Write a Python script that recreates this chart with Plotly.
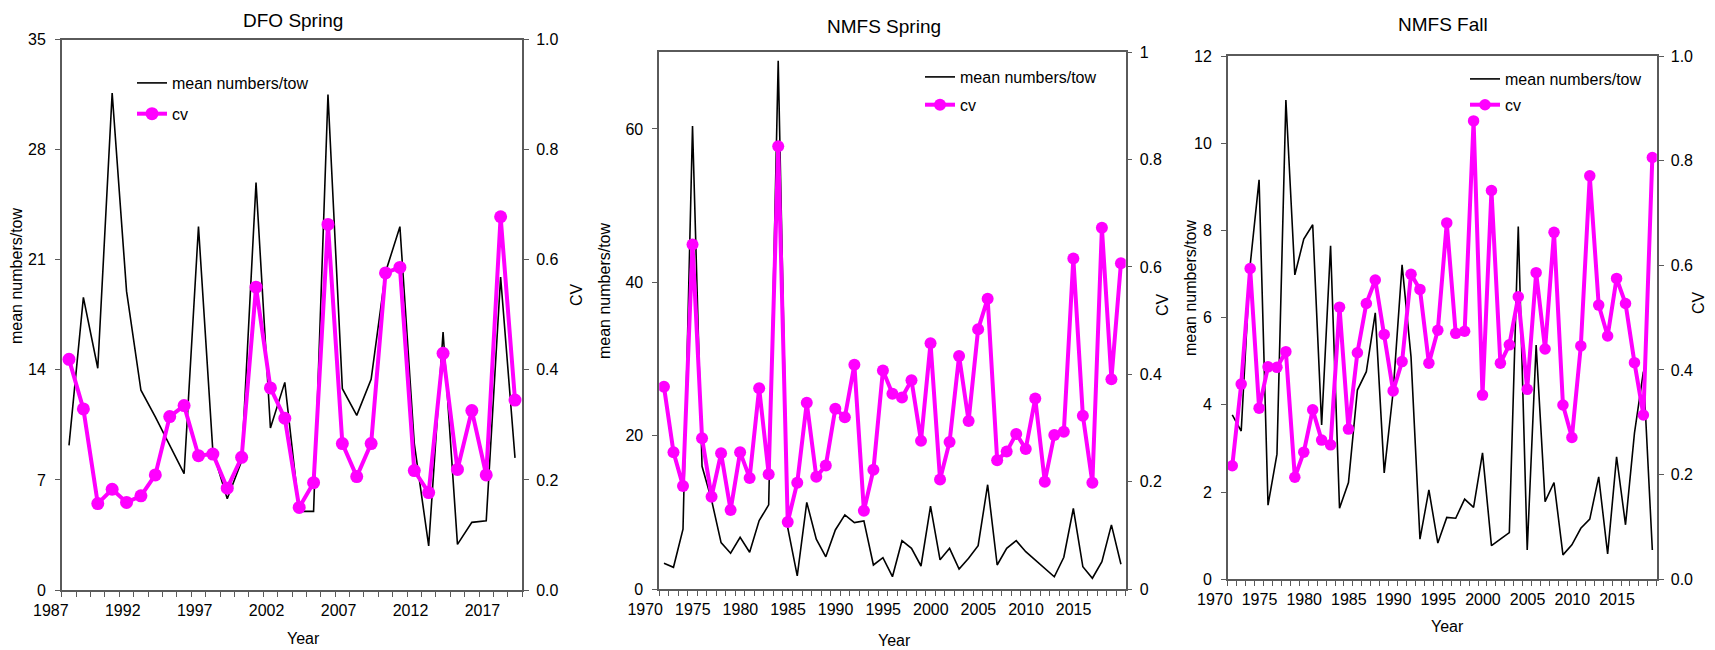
"""Mean numbers/tow and CV by survey: DFO Spring, NMFS Spring, NMFS Fall."""

import plotly.graph_objects as go

W, H = 1715, 650
FONT = "Liberation Sans, Arial, sans-serif"
MAGENTA = "#FF00FF"
AXIS = "#5a5a5a"

# --- data ---
dfo_years = list(range(1988, 2020))
dfo_mean = [9.2, 18.6, 14.1, 31.6, 19.0, 12.7, 11.0, 9.2, 7.4, 23.1,
            8.8, 5.8, 8.2, 25.9, 10.3, 13.2, 5.0, 5.0, 31.5, 12.8,
            11.1, 13.4, 20.2, 23.1, 9.3, 2.8, 16.4, 2.9, 4.3, 4.4,
            19.9, 8.4]
dfo_cv = [0.419, 0.329, 0.157, 0.183, 0.159, 0.171, 0.209, 0.315, 0.335, 0.244,
          0.247, 0.185, 0.241, 0.550, 0.367, 0.312, 0.150, 0.195, 0.664, 0.266,
          0.206, 0.266, 0.576, 0.586, 0.217, 0.177, 0.430, 0.219, 0.326, 0.209,
          0.678, 0.345]

spring_years = list(range(1972, 2021))
spring_mean = [3.35, 2.83, 7.8, 60.4, 16.0, 11.6, 6.05, 4.66, 6.75, 4.79,
               8.92, 10.97, 68.9, 8.0, 1.7, 11.3, 6.5, 4.2, 7.7, 9.66,
               8.66, 8.88, 3.13, 4.09, 1.6, 6.3, 5.3, 3.0, 10.8, 3.8,
               5.3, 2.6, 4.0, 5.65, 13.6, 3.13, 5.3, 6.3, 4.87, 3.79,
               2.7, 1.6, 4.14, 10.5, 2.9, 1.4, 3.57, 8.36, 3.22]
spring_cv = [0.377, 0.255, 0.192, 0.642, 0.281, 0.172, 0.253, 0.147, 0.255, 0.207,
             0.374, 0.214, 0.825, 0.125, 0.198, 0.347, 0.209, 0.230, 0.336, 0.320,
             0.418, 0.146, 0.222, 0.407, 0.364, 0.357, 0.389, 0.276, 0.458, 0.204,
             0.274, 0.434, 0.313, 0.484, 0.541, 0.240, 0.256, 0.289, 0.261, 0.355,
             0.200, 0.287, 0.293, 0.616, 0.323, 0.198, 0.673, 0.391, 0.607]

fall_years = list(range(1972, 2020))
fall_mean = [3.77, 3.40, 7.2, 9.16, 1.70, 2.87, 10.99, 6.98, 7.80, 8.13,
             3.54, 7.65, 1.63, 2.22, 4.34, 4.76, 6.11, 2.44, 4.3, 7.21,
             5.1, 0.92, 2.05, 0.83, 1.42, 1.40, 1.84, 1.65, 2.90, 0.77,
             0.92, 1.07, 8.09, 0.67, 5.37, 1.78, 2.22, 0.56, 0.79, 1.17,
             1.38, 2.35, 0.58, 2.81, 1.25, 3.35, 4.76, 0.67]
fall_cv = [0.217, 0.373, 0.594, 0.327, 0.406, 0.405, 0.435, 0.195, 0.243, 0.324,
           0.266, 0.257, 0.520, 0.287, 0.433, 0.527, 0.572, 0.468, 0.360, 0.416,
           0.583, 0.554, 0.413, 0.476, 0.681, 0.470, 0.474, 0.876, 0.352, 0.743,
           0.413, 0.448, 0.540, 0.363, 0.586, 0.440, 0.663, 0.333, 0.271, 0.446,
           0.771, 0.524, 0.465, 0.575, 0.527, 0.414, 0.314, 0.806]

# layout of each panel, in page pixels
panels = [
    dict(title="DFO Spring", years=dfo_years, mean=dfo_mean, cv=dfo_cv,
         first_label=1987, ymax=35, yticks=[0, 7, 14, 21, 28, 35], cvfmt=".1f",
         box=(61.8, 522.2, 39.5, 590), msize=13, label_shift=-11,
         title_xy=(293, 20), ytitle_xy=(16, 276), cvtitle_xy=(577, 295), xtitle_xy=(303, 638),
         legend_xy=(137, 66), legend_gap=7),
    dict(title="NMFS Spring", years=spring_years, mean=spring_mean, cv=spring_cv,
         first_label=1970, ymax=70, yticks=[0, 20, 40, 60], cvfmt="",
         box=(659.2, 1125.7, 52.3, 589), msize=12, label_shift=-14,
         title_xy=(884, 27), ytitle_xy=(605, 291), cvtitle_xy=(1162, 305), xtitle_xy=(895, 640),
         legend_xy=(925, 60), legend_gap=4),
    dict(title="NMFS Fall", years=fall_years, mean=fall_mean, cv=fall_cv,
         first_label=1970, ymax=12, yticks=[0, 2, 4, 6, 8, 10, 12], cvfmt=".1f",
         box=(1227.8, 1656.8, 56, 579.3), msize=11.5, label_shift=-13,
         title_xy=(1443, 25), ytitle_xy=(1190, 288), cvtitle_xy=(1698, 303), xtitle_xy=(1447, 626),
         legend_xy=(1470, 62), legend_gap=2),
]


def px_x(p):
    return p / W


def px_y(p):
    return 1 - p / H


def label(text, xy, size=16, angle=0):
    return dict(text=text, x=px_x(xy[0]), y=px_y(xy[1]), xref="paper", yref="paper",
                xanchor="center", yanchor="middle", textangle=angle, showarrow=False,
                font=dict(family=FONT, size=size, color="#000"))


fig = go.Figure()
layout = {}
annotations = []
tick_font = dict(family=FONT, size=16, color="#000")

for i, p in enumerate(panels, start=1):
    xname = "x" if i == 1 else f"x{i}"
    yl = 2 * i - 1
    yr = 2 * i
    ylname = "y" if yl == 1 else f"y{yl}"
    yrname = f"y{yr}"
    legname = "legend" if i == 1 else f"legend{i}"

    x0, x1, ytop, ybot = p["box"]
    years = p["years"]
    lo, hi = years[0] - 0.5, years[-1] + 0.5
    # year labels sit left of the year-boundary ticks, as in the original
    offset = lo - p["first_label"]
    label_years = list(range(p["first_label"], years[-1] + 1, 5))

    fig.add_trace(go.Scatter(
        x=years, y=p["mean"], xaxis=xname, yaxis=ylname,
        mode="lines", name="mean numbers/tow",
        line=dict(color="black", width=1.6),
        legend=legname, legendgroup=f"m{i}",
    ))
    fig.add_trace(go.Scatter(
        x=years, y=p["cv"], xaxis=xname, yaxis=yrname,
        mode="lines+markers", name="cv",
        line=dict(color=MAGENTA, width=4),
        marker=dict(color=MAGENTA, size=p["msize"]),
        legend=legname, legendgroup=f"c{i}",
    ))

    layout["xaxis" if i == 1 else f"xaxis{i}"] = dict(
        domain=[px_x(x0), px_x(x1)], anchor=ylname, range=[lo, hi],
        tickmode="array", tickvals=[y + offset for y in label_years],
        ticktext=[str(y) for y in label_years],
        ticklabelshift=p["label_shift"],
        ticks="outside", ticklen=5, tickcolor=AXIS,
        minor=dict(tickmode="linear", tick0=lo, dtick=1, ticks="outside", ticklen=5, tickcolor=AXIS),
        showline=True, linecolor=AXIS, linewidth=1.5, mirror=True,
        showgrid=False, zeroline=False, tickfont=tick_font, automargin=False,
    )
    layout["yaxis" if yl == 1 else f"yaxis{yl}"] = dict(
        domain=[px_y(ybot), px_y(ytop)], anchor=xname, range=[0, p["ymax"]],
        tickmode="array", tickvals=p["yticks"],
        ticks="outside", ticklen=5, tickcolor=AXIS, ticklabelstandoff=6,
        showline=True, linecolor=AXIS, linewidth=1.5,
        showgrid=False, zeroline=False, tickfont=tick_font, automargin=False,
    )
    layout[f"yaxis{yr}"] = dict(
        overlaying=ylname, side="right", anchor=xname, range=[0, 1],
        tickmode="array", tickvals=[0, 0.2, 0.4, 0.6, 0.8, 1.0], tickformat=p["cvfmt"],
        ticks="outside", ticklen=5, tickcolor=AXIS, ticklabelstandoff=4,
        showline=True, linecolor=AXIS, linewidth=1.5,
        showgrid=False, zeroline=False, tickfont=tick_font, automargin=False,
    )
    lx, ly = p["legend_xy"]
    layout[legname] = dict(
        x=px_x(lx - 5), y=px_y(ly), xanchor="left", yanchor="top",
        bgcolor="rgba(0,0,0,0)", borderwidth=0,
        traceorder="grouped", tracegroupgap=p["legend_gap"],
        font=dict(family=FONT, size=16, color="#000"),
    )

    annotations.append(label(p["title"], p["title_xy"], size=19))
    annotations.append(label("mean numbers/tow", p["ytitle_xy"], angle=-90))
    annotations.append(label("CV", p["cvtitle_xy"], angle=-90))
    annotations.append(label("Year", p["xtitle_xy"]))

fig.update_layout(
    **layout,
    annotations=annotations,
    width=W, height=H,
    margin=dict(l=0, r=0, t=0, b=0, autoexpand=False),
    paper_bgcolor="white", plot_bgcolor="white",
    showlegend=True,
    font=dict(family=FONT, size=16, color="#000"),
)

fig.write_html(
    "out.html",
    config={"displayModeBar": False},
    post_script="document.body.style.margin='0';document.body.style.overflow='hidden';",
)
